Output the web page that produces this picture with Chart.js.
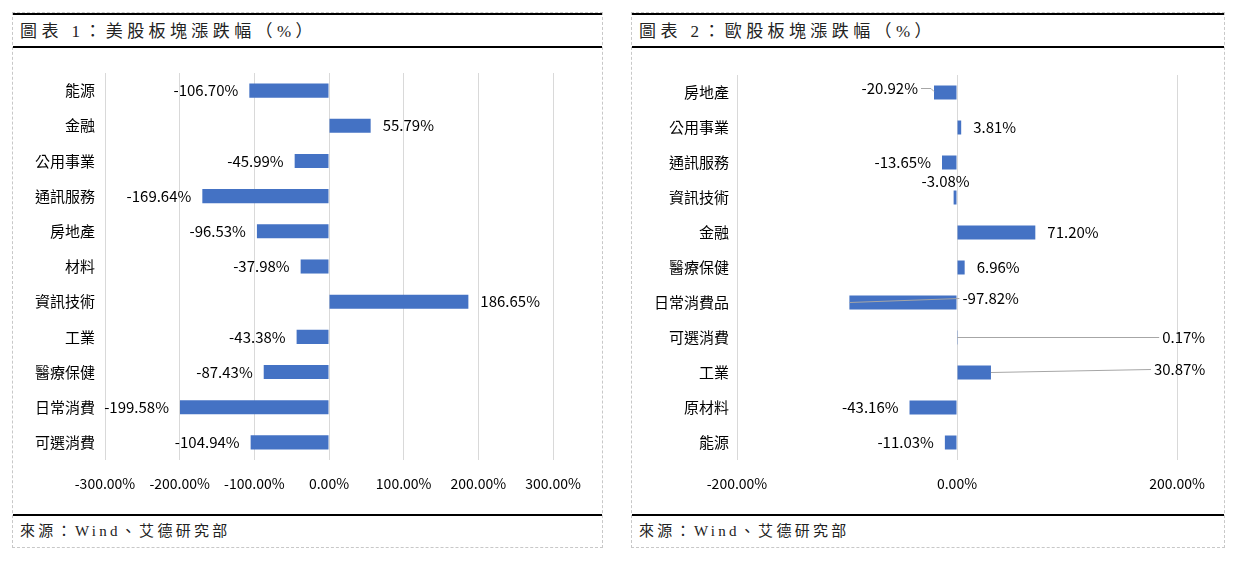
<!DOCTYPE html>
<html>
<head>
<meta charset="utf-8">
<script src="https://cdn.jsdelivr.net/npm/chart.js@4/dist/chart.umd.min.js"></script>
<style>
    html, body { margin: 0; padding: 0; background: #fff; }
    body { width: 1243px; height: 566px; position: relative; overflow: hidden; }
    .panel {
        position: absolute;
        top: 12px;
        height: 536px;
        border: 1px dashed #c8c8c8;
        box-sizing: border-box;
    }
    #panel-us { left: 12px; width: 591px; }
    #panel-eu { left: 631px; width: 594px; }
    .title {
        position: absolute;
        left: 0; right: 0; top: 0;
        height: 35px;
        box-sizing: border-box;
        border-top: 2px solid #000;
        border-bottom: 2px solid #000;
        padding-left: 7px;
        font: 17px "Liberation Serif", "Noto Sans CJK TC", serif;
        letter-spacing: 4.4px;
        line-height: 33px;
        color: #222;
        white-space: nowrap;
    }
    .chart-box { position: absolute; left: 0; top: 35px; }
    .source {
        position: absolute;
        left: 0; right: 0; top: 501px; bottom: 0;
        box-sizing: border-box;
        border-top: 2px solid #000;
        padding-left: 7px;
        font: 15px "Liberation Serif", "Noto Sans CJK TC", serif;
        letter-spacing: 3.3px;
        line-height: 31px;
        color: #222;
        white-space: nowrap;
    }
</style>
</head>
<body>
<div class="panel" id="panel-us">
    <div class="title">圖表 1：美股板塊漲跌幅（%）</div>
    <div class="chart-box"><canvas id="usChart" width="589" height="466"></canvas></div>
    <div class="source">來源：Wind、艾德研究部</div>
</div>
<div class="panel" id="panel-eu">
    <div class="title">圖表 2：歐股板塊漲跌幅（%）</div>
    <div class="chart-box"><canvas id="euChart" width="592" height="466"></canvas></div>
    <div class="source">來源：Wind、艾德研究部</div>
</div>

<script>
// 圖表 1 數據
const usSectors = ['能源', '金融', '公用事業', '通訊服務', '房地產', '材料', '資訊技術', '工業', '醫療保健', '日常消費', '可選消費'];
const usChange = [-106.70, 55.79, -45.99, -169.64, -96.53, -37.98, 186.65, -43.38, -87.43, -199.58, -104.94];
const usTicks = [-300, -200, -100, 0, 100, 200, 300];

// 圖表 2 數據
const euSectors = ['房地產', '公用事業', '通訊服務', '資訊技術', '金融', '醫療保健', '日常消費品', '可選消費', '工業', '原材料', '能源'];
const euChange = [-20.92, 3.81, -13.65, -3.08, 71.20, 6.96, -97.82, 0.17, 30.87, -43.16, -11.03];
const euTicks = [-200, 0, 200];

const BAR_COLOR = '#4472c4';
const FONT = '"Noto Sans CJK TC", "Noto Sans CJK SC", sans-serif';

Chart.defaults.font.family = FONT;
Chart.defaults.color = '#000';

// 標籤位置微調（像素，相對於柱端）
const euLabelNudge = {
    0: { dx: -16, dy: -4, hook: true },
    3: { dx: 16, dy: -16 },
    6: { dx: 113, dy: -4, align: 'left', leader: true },
    7: { dx: 205, leader: true },
    8: { dx: 163, dy: -3, leader: true }
};

const fmtPct = v => v.toFixed(2) + '%';

// 數據標籤插件
function makeLabelPlugin(nudges) {
    return {
        id: 'barLabels',
        afterDatasetsDraw(chart) {
            const ctx = chart.ctx;
            const meta = chart.getDatasetMeta(0);
            const values = chart.data.datasets[0].data;
            ctx.save();
            ctx.font = '15px ' + FONT;
            ctx.textBaseline = 'middle';
            meta.data.forEach((bar, i) => {
                const v = values[i];
                const n = nudges[i] || {};
                const neg = v < 0;
                const align = n.align || (neg ? 'right' : 'left');
                const dx = n.dx !== undefined ? n.dx : (neg ? -11 : 12);
                const lx = bar.x + dx;
                const ly = bar.y + (n.dy || 0);

                // 引導線
                if (n.leader || n.hook) {
                    ctx.strokeStyle = '#a6a6a6';
                    ctx.lineWidth = 1;
                    ctx.beginPath();
                    if (n.hook) {
                        ctx.moveTo(lx + 3, ly);
                        ctx.lineTo(bar.x - 3, ly);
                        ctx.lineTo(bar.x, ly + 3);
                    } else {
                        ctx.moveTo(bar.x, bar.y);
                        ctx.lineTo(lx - 3, ly);
                    }
                    ctx.stroke();
                }

                ctx.fillStyle = '#000';
                ctx.textAlign = align;
                ctx.fillText(fmtPct(v), lx, ly);
            });
            ctx.restore();
        }
    };
}

function buildChart(canvasId, labels, values, ticks, opts) {
    const ctx = document.getElementById(canvasId).getContext('2d');
    return new Chart(ctx, {
        type: 'bar',
        data: {
            labels: labels,
            datasets: [{
                data: values,
                backgroundColor: BAR_COLOR,
                borderWidth: 0,
                barPercentage: 0.4,
                categoryPercentage: 1
            }]
        },
        options: {
            indexAxis: 'y',
            responsive: false,
            animation: false,
            devicePixelRatio: 1,
            layout: {
                padding: { top: opts.top, right: opts.right, bottom: 14, left: 0 }
            },
            plugins: {
                legend: { display: false },
                tooltip: { enabled: false }
            },
            scales: {
                x: {
                    min: ticks[0],
                    max: ticks[ticks.length - 1],
                    afterBuildTicks: scale => {
                        scale.ticks = ticks.map(v => ({ value: v }));
                    },
                    afterFit: scale => { scale.height = 40; },
                    grid: { color: '#d9d9d9', drawTicks: false },
                    border: { display: false },
                    ticks: {
                        padding: 15,
                        font: { size: 14 },
                        color: '#000',
                        maxRotation: 0,
                        callback: v => fmtPct(v)
                    }
                },
                y: {
                    afterFit: scale => { scale.width = opts.axisWidth; },
                    grid: { display: false, drawTicks: false },
                    border: { display: false },
                    ticks: {
                        padding: opts.labelPad,
                        font: { size: 15 },
                        color: '#000'
                    }
                }
            }
        },
        plugins: [makeLabelPlugin(opts.nudges || {})]
    });
}

buildChart('usChart', usSectors, usChange, usTicks, {
    top: 25, right: 49, axisWidth: 92, labelPad: 10
});

buildChart('euChart', euSectors, euChange, euTicks, {
    top: 27, right: 47, axisWidth: 105, labelPad: 8, nudges: euLabelNudge
});
</script>
</body>
</html>
